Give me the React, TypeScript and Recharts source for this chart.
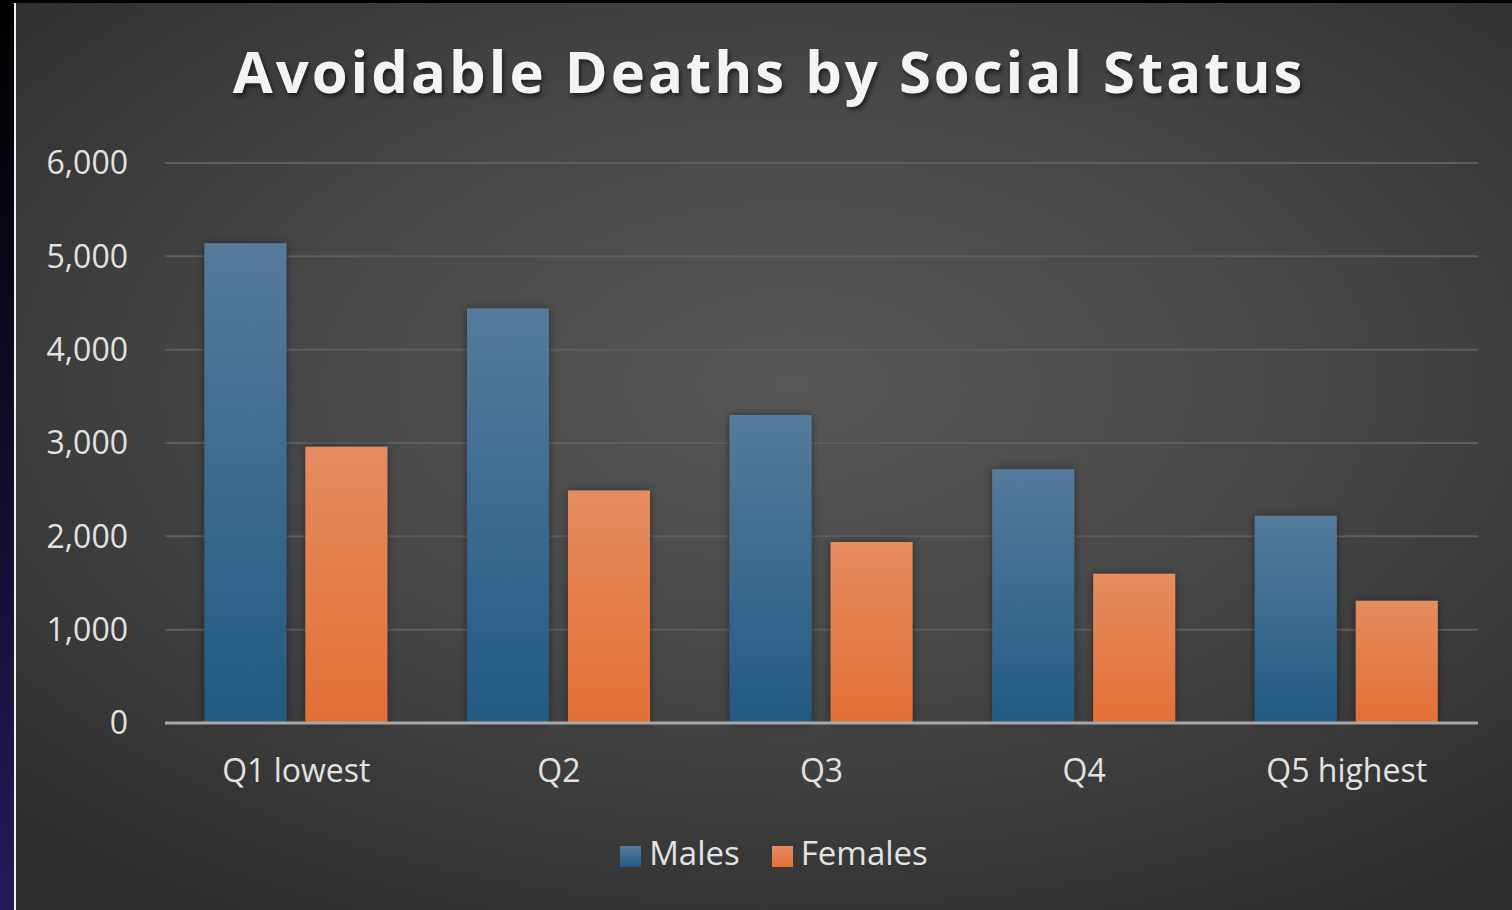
import { BarChart, Bar, XAxis, YAxis, CartesianGrid, Legend } from 'recharts';

const categories = ['Q1 lowest', 'Q2', 'Q3', 'Q4', 'Q5 highest'];
const males = [5140, 4440, 3300, 2720, 2220];
const females = [2960, 2490, 1940, 1600, 1310];
const yTicks = [0, 1000, 2000, 3000, 4000, 5000, 6000];
const seriesOrder = ['Males', 'Females'];

const data = categories.map((c, i) => ({ name: c, Males: males[i], Females: females[i] }));

const font = '"Open Sans", "Noto Sans", sans-serif';

export default function App() {
    return (
        <div
            style={{
                position: 'absolute',
                left: 0,
                top: 0,
                width: 1512,
                height: 910,
                background: '#000',
                overflow: 'hidden',
                fontFamily: font,
            }}
        >
            {/* left strip */}
            <div
                style={{
                    position: 'absolute',
                    left: 0,
                    top: 0,
                    width: 14,
                    height: 910,
                    background: 'linear-gradient(to bottom, #000 0%, #0c0a20 40%, #241a5a 100%)',
                }}
            />
            <div style={{ position: 'absolute', left: 14, top: 3, width: 2, height: 907, background: '#f2f2f2' }} />
            <div
                style={{
                    position: 'absolute',
                    left: 16,
                    top: 3,
                    width: 1496,
                    height: 907,
                    background: 'radial-gradient(ellipse 75% 70% at 52% 42%, #575757 0%, #484848 45%, #363636 80%, #2c2c2c 100%)',
                }}
            >
                <div
                    style={{
                        position: 'absolute',
                        left: 0,
                        top: 28,
                        width: 1506,
                        textAlign: 'center',
                        color: '#f4f4f4',
                        fontWeight: 700,
                        fontSize: 58,
                        letterSpacing: 3,
                        textShadow: '2px 3px 4px rgba(0,0,0,0.55)',
                    }}
                >
                    Avoidable Deaths by Social Status
                </div>
                <BarChart
                    width={1496}
                    height={907}
                    data={data}
                    margin={{ top: 160, right: 34, left: 0, bottom: 35 }}
                    barCategoryGap="15%"
                    barGap={19}
                    style={{ position: 'absolute', left: 0, top: 0 }}
                >
                    <defs>
                        <linearGradient id="maleGrad" x1="0" y1="0" x2="0" y2="1">
                            <stop offset="0%" stopColor="#557b9c" />
                            <stop offset="100%" stopColor="#225a82" />
                        </linearGradient>
                        <linearGradient id="femaleGrad" x1="0" y1="0" x2="0" y2="1">
                            <stop offset="0%" stopColor="#e58c60" />
                            <stop offset="100%" stopColor="#e36f35" />
                        </linearGradient>
                        <filter id="barShadow" x="-20%" y="-10%" width="140%" height="120%">
                            <feDropShadow dx="0" dy="0" stdDeviation="4" floodColor="#000" floodOpacity="0.45" />
                        </filter>
                    </defs>
                    <CartesianGrid vertical={false} stroke="#5e5e5e" strokeWidth={2} />
                    <XAxis
                        dataKey="name"
                        height={107}
                        axisLine={{ stroke: '#a8a8a8', strokeWidth: 3 }}
                        tickLine={false}
                        tickMargin={30}
                        tick={{ fill: '#e2e2e2', fontSize: 32, fontFamily: font }}
                    />
                    <YAxis
                        width={149}
                        domain={[0, 6000]}
                        ticks={yTicks}
                        axisLine={false}
                        tickLine={false}
                        tickMargin={31}
                        tickFormatter={(v: number) => v.toLocaleString('en-US')}
                        tick={{ fill: '#e2e2e2', fontSize: 32, fontFamily: font }}
                    />
                    <Legend
                        verticalAlign="bottom"
                        align="center"
                        iconType="square"
                        iconSize={21}
                        itemSorter={(item: any) => seriesOrder.indexOf(item.value)}
                        wrapperStyle={{ left: 43, fontSize: 33, fontFamily: font, color: '#e2e2e2' }}
                        formatter={(value: string) => <span style={{ color: '#e2e2e2', marginLeft: 4, marginRight: 22 }}>{value}</span>}
                    />
                    <Bar dataKey="Males" fill="url(#maleGrad)" filter="url(#barShadow)" isAnimationActive={false} legendType="square" />
                    <Bar dataKey="Females" fill="url(#femaleGrad)" filter="url(#barShadow)" isAnimationActive={false} legendType="square" />
                </BarChart>
            </div>
        </div>
    );
}
